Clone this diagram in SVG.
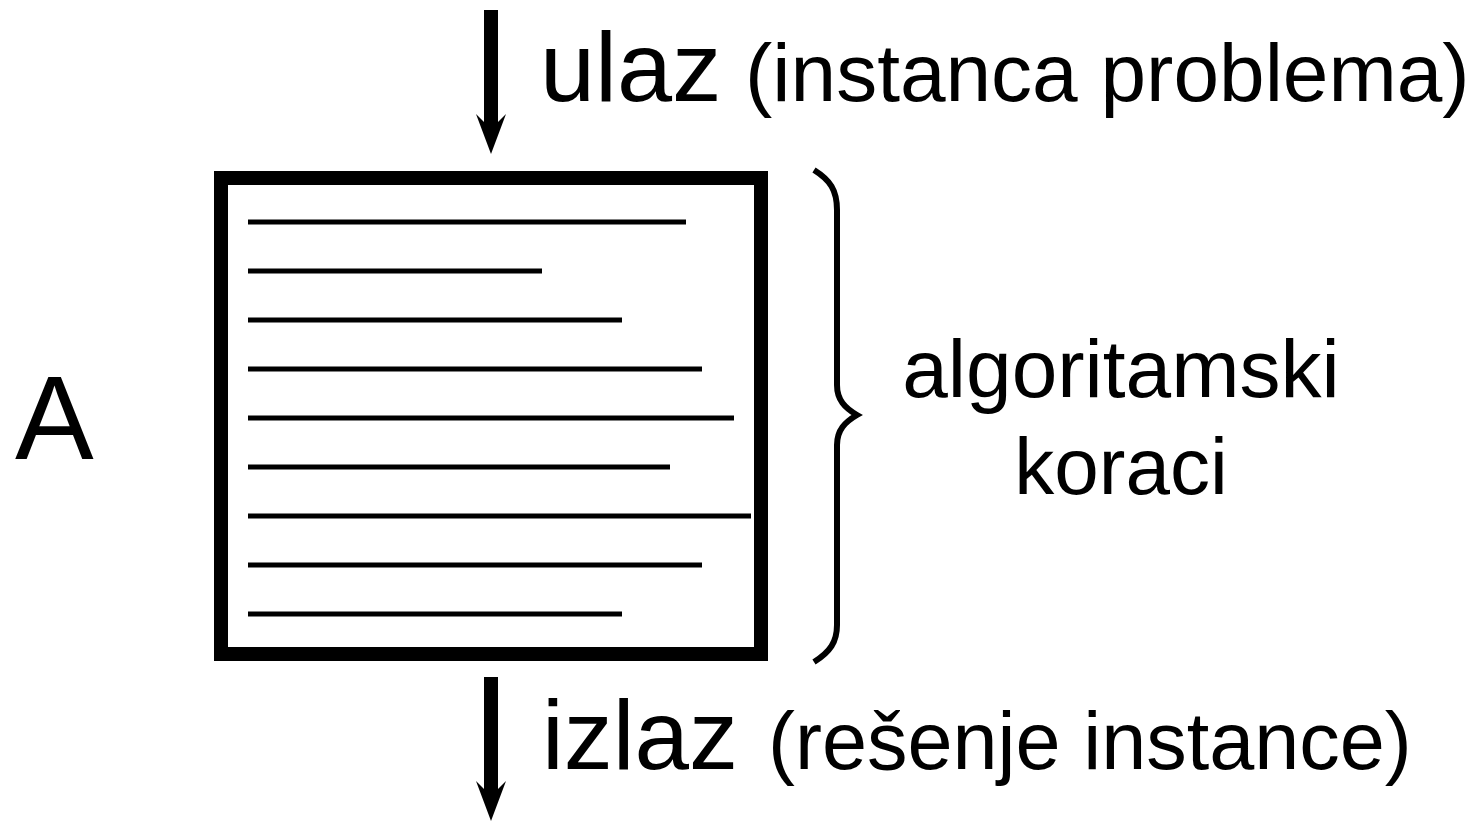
<svg xmlns="http://www.w3.org/2000/svg" width="1476" height="821" viewBox="0 0 1476 821">
  <style>
    .t { font-family: "Liberation Sans", Arial, sans-serif; fill: #000; }
    .step { stroke: #000; stroke-width: 5; fill: none; }
    .arrow { fill: #000; }
  </style>
  <rect width="1476" height="821" fill="#fff"/>
  <g id="connectors">
    <path class="arrow" d="M484,10 H498 V122 L506,114 L491,154 L476,114 L484,122 Z"/>
    <path class="arrow" d="M484,677 H498 V789 L506,781 L491,821 L476,781 L484,789 Z"/>
  </g>
  <g id="label-input">
    <text class="t" x="540" y="101" font-size="99">ulaz</text>
    <text class="t" x="745" y="101" font-size="82">(instanca problema)</text>
  </g>
  <g id="algorithm-box">
    <rect x="221" y="178" width="540" height="476" fill="#fff" stroke="#000" stroke-width="14"/>
    <line class="step" x1="248" y1="222" x2="686" y2="222"/>
    <line class="step" x1="248" y1="271" x2="542" y2="271"/>
    <line class="step" x1="248" y1="320" x2="622" y2="320"/>
    <line class="step" x1="248" y1="369" x2="702" y2="369"/>
    <line class="step" x1="248" y1="418" x2="734" y2="418"/>
    <line class="step" x1="248" y1="467" x2="670" y2="467"/>
    <line class="step" x1="248" y1="516" x2="751" y2="516"/>
    <line class="step" x1="248" y1="565" x2="702" y2="565"/>
    <line class="step" x1="248" y1="614" x2="622" y2="614"/>
  </g>
  <g id="label-A">
    <text class="t" x="15" y="459" font-size="118">A</text>
  </g>
  <g id="brace">
    <path d="M814,170 C830,180 837,190 837,210 V385 C837,400 845,408 857,415 C845,422 837,430 837,445 V625 C837,642 830,652 814,662" fill="none" stroke="#000" stroke-width="6"/>
  </g>
  <g id="label-steps">
    <text class="t" x="1121" y="397" font-size="82" text-anchor="middle">algoritamski</text>
    <text class="t" x="1121" y="494" font-size="80" text-anchor="middle">koraci</text>
  </g>
  <g id="label-output">
    <text class="t" x="542" y="769" font-size="98">izlaz</text>
    <text class="t" x="768" y="769" font-size="81">(rešenje instance)</text>
  </g>
</svg>
